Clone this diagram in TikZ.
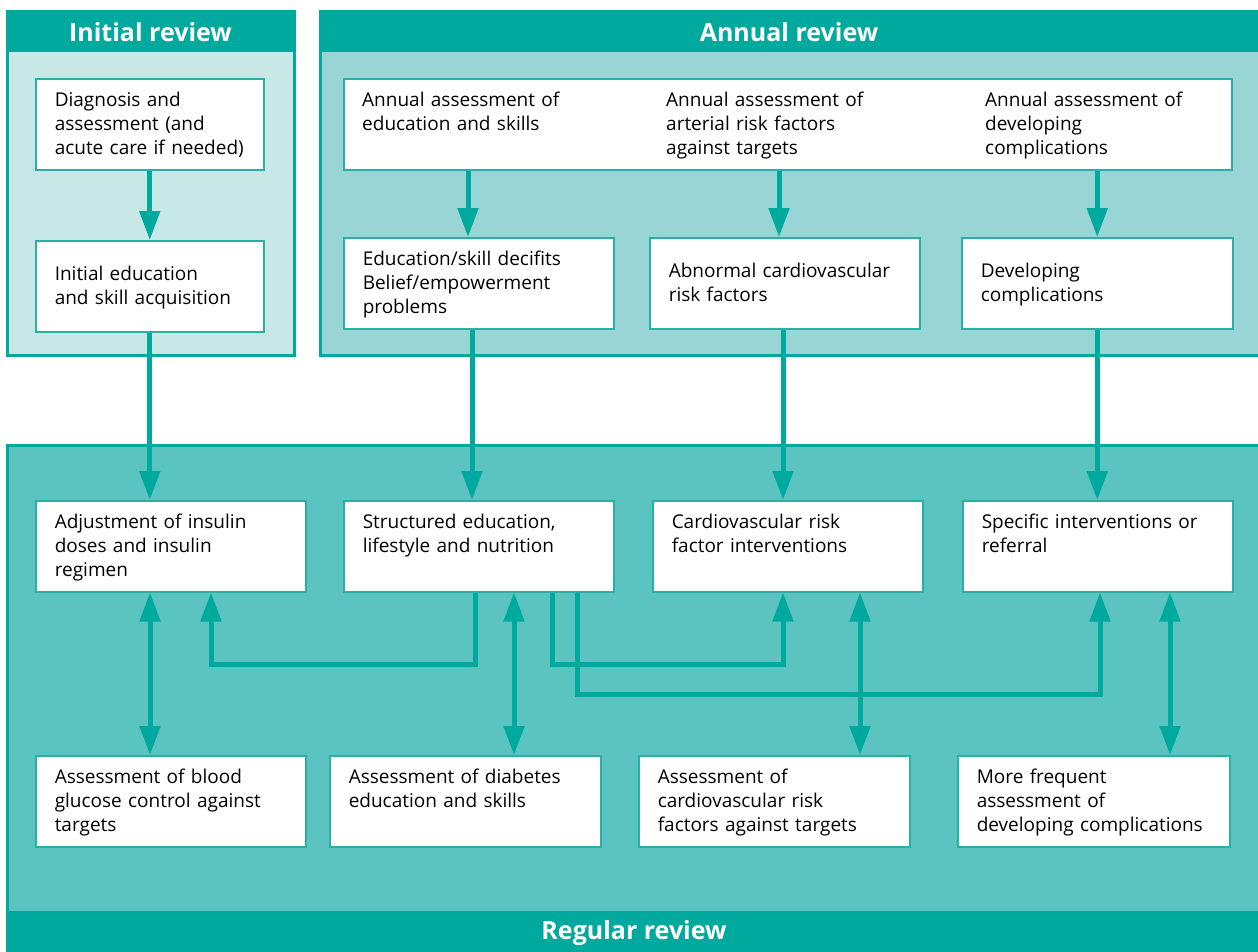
\documentclass[tikz,border=0pt]{standalone}
\usepackage{fontspec}
\setmainfont{Open Sans}
\usetikzlibrary{arrows.meta}
\definecolor{tealdark}{RGB}{0,169,157}
\definecolor{boxline}{RGB}{40,176,168}
\definecolor{initfill}{RGB}{200,231,231}
\definecolor{annualfill}{RGB}{152,213,212}
\definecolor{regfill}{RGB}{91,196,192}
\newcommand\boxfont{\fontsize{19}{24}\selectfont}
\newcommand\hdrfont{\fontsize{25}{30}\selectfont\bfseries}
\begin{document}
\begin{tikzpicture}[x=1pt,y=-1pt,
    box/.style={draw=boxline,fill=white,line width=1.5pt,anchor=north west,align=left,
        inner xsep=19pt,inner ysep=0pt,text height=28pt,text depth=63pt,font=\boxfont},
    midbox/.style={box,text height=40pt,text depth=51pt},
    txt/.style={anchor=north west,align=left,inner sep=0pt,text width=240pt,text height=28pt,text depth=63pt,font=\boxfont},
    hdr/.style={text=white,font=\hdrfont,inner sep=0pt},
    arr/.style={draw=tealdark,line width=5pt,-{Triangle[length=29pt,width=20pt]}},
    darr/.style={draw=tealdark,line width=5pt,{Triangle[length=29pt,width=20pt]}-{Triangle[length=29pt,width=20pt]}},
    elbow/.style={arr,line join=miter}]
    \useasboundingbox(0,0)rectangle(1258,951);

    % panels
    \draw[line width=3pt,draw=tealdark,fill=initfill](7.5,11.5)rectangle(294,355);
    \fill[tealdark](6,10)rectangle(295.5,52);
    \node[hdr](inithead)at(150.5,32){Initial review};
    \draw[line width=3pt,draw=tealdark,fill=annualfill](320.5,11.5)rectangle(1262,355);
    \fill[tealdark](319,10)rectangle(1262,52);
    \node[hdr](annualhead)at(789,32){Annual review};
    \draw[line width=3pt,draw=tealdark,fill=regfill](7.5,445.5)rectangle(1262,955);
    \fill[tealdark](6,911)rectangle(1262,955);
    \node[hdr](reghead)at(634,933){Regular review};

    % initial review
    \node[box,text width=190pt](diag)at(35,78){Diagnosis and\\assessment (and\\acute care if needed)};
    \node[midbox,text width=190pt](initedu)at(35,240){Initial education\\and skill acquisition};

    % annual review
    \node[box,text width=850pt](annual)at(343,78){};
    \node[txt](annedu)at(362,78){Annual assessment of\\education and skills};
    \node[txt](annart)at(666,78){Annual assessment of\\arterial risk factors\\against targets};
    \node[txt](anncomp)at(985,78){Annual assessment of\\developing\\complications};
    \node[box,text width=232pt](deficit)at(343,237){Education/skill decifits\\Belief/empowerment\\problems};
    \node[midbox,text width=232pt](abnormal)at(649,237){Abnormal cardiovascular\\risk factors};
    \node[midbox,text width=233pt](devcomp)at(961,237){Developing\\complications};

    % regular review
    \node[box,text width=232pt](adjust)at(35,500){Adjustment of insulin\\doses and insulin\\regimen};
    \node[box,text width=232pt](structed)at(343,500){Structured education,\\lifestyle and nutrition};
    \node[box,text width=232pt](cvint)at(652,500){Cardiovascular risk\\factor interventions};
    \node[box,text width=232pt](specific)at(962,500){Specific interventions or\\referral};
    \node[box,text width=232pt](gluc)at(35,755){Assessment of blood\\glucose control against\\targets};
    \node[box,text width=233pt](eduassess)at(329,755){Assessment of diabetes\\education and skills};
    \node[box,text width=233pt](cvassess)at(638,755){Assessment of\\cardiovascular risk\\factors against targets};
    \node[box,text width=234pt](morefreq)at(957,755){More frequent\\assessment of\\developing complications};

    \draw[arr](diag.south)--(initedu.north);
    \draw[arr]([xshift=125pt]deficit.north west|-annual.south)--([xshift=125pt]deficit.north west);
    \draw[arr]([xshift=130pt]abnormal.north west|-annual.south)--([xshift=130pt]abnormal.north west);
    \draw[arr](devcomp.north|-annual.south)--(devcomp.north);

    \draw[arr](initedu.south)--(initedu.south|-adjust.north);
    \draw[arr]([xshift=129pt]deficit.south west)--([xshift=129pt]structed.north west);
    \draw[arr]([xshift=134pt]abnormal.south west)--([xshift=134pt]abnormal.south west|-cvint.north);
    \draw[arr](devcomp.south)--(devcomp.south|-specific.north);

    \draw[elbow]([xshift=132pt]structed.south west)--++(0,72)-|([xshift=176pt]adjust.south west);
    \draw[elbow]([xshift=209pt]structed.south west)--++(0,72)-|([xshift=131pt]cvint.south west);
    \draw[elbow]([xshift=234pt]structed.south west)--++(0,102)-|([xshift=138pt]specific.south west);

    \draw[darr]([xshift=115pt]adjust.south west)--([xshift=115pt]adjust.south west|-gluc.north);
    \draw[darr]([xshift=171pt]structed.south west)--([xshift=171pt]structed.south west|-eduassess.north);
    \draw[darr]([xshift=208pt]cvint.south west)--([xshift=208pt]cvint.south west|-cvassess.north);
    \draw[darr]([xshift=208pt]specific.south west)--([xshift=208pt]specific.south west|-morefreq.north);
\end{tikzpicture}
\end{document}
